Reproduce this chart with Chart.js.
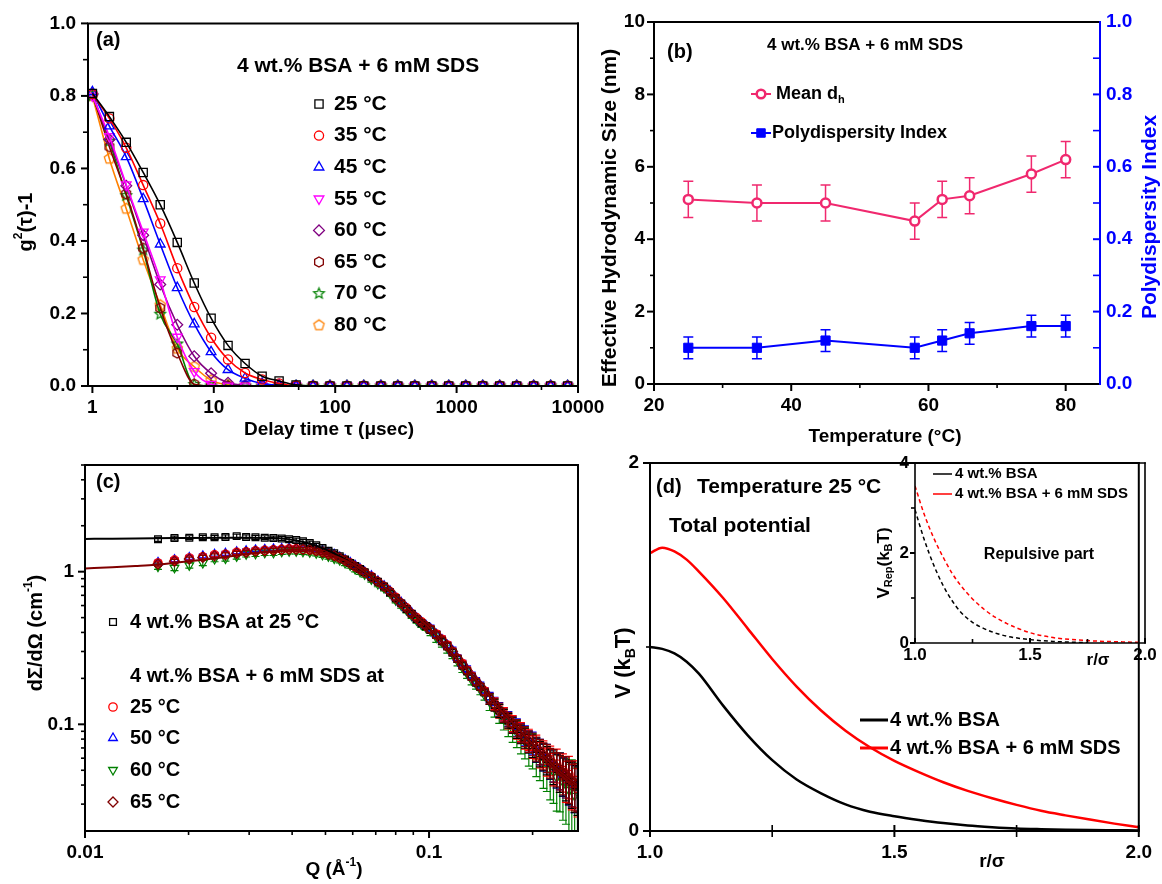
<!DOCTYPE html>
<html><head><meta charset="utf-8">
<script src="https://cdn.jsdelivr.net/npm/chart.js@4.4.1/dist/chart.umd.min.js"></script>
<style>
html,body{margin:0;padding:0;background:#fff;}
#wrap{position:relative;width:1162px;height:884px;background:#fff;overflow:hidden;}
canvas{position:absolute;}
</style></head><body>
<div id="wrap">
<canvas id="ca" width="620" height="440" style="left:0px;top:0px"></canvas>
<canvas id="cb" width="572" height="455" style="left:590px;top:0px"></canvas>
<canvas id="cc" width="620" height="444" style="left:0px;top:440px"></canvas>
<canvas id="cd" width="572" height="444" style="left:590px;top:440px"></canvas>
<canvas id="ce" width="292" height="230" style="left:870px;top:440px"></canvas>
</div>
<script>
// ---------------- DATA ----------------
// (a) DLS correlation functions
const tauUs = [1,1.38,1.9,2.62,3.62,5.0,6.9,9.5,13.1,18.1,25,34.5,47.6,65.7,90.6,125,172,238,328,453,625,862,1190,1642,2266,3127,4315,5955,8218];
const g2_25C = [0.807,0.743,0.672,0.589,0.500,0.396,0.284,0.187,0.112,0.062,0.027,0.014,0.003,0,0,0,0,0,0,0,0,0,0,0,0,0,0,0,0];
const g2_35C = [0.805,0.738,0.657,0.554,0.448,0.325,0.218,0.133,0.073,0.036,0.018,0.007,0.001,0,0,0,0,0,0,0,0,0,0,0,0,0,0,0,0];
const g2_45C = [0.811,0.717,0.632,0.516,0.391,0.271,0.171,0.094,0.045,0.021,0.007,0.002,0,0,0,0,0,0,0,0,0,0,0,0,0,0,0,0,0];
const g2_55C = [0.800,0.688,0.555,0.425,0.293,0.135,0.040,0.005,0,0,0,0,0,0,0,0,0,0,0,0,0,0,0,0,0,0,0,0,0];
const g2_60C = [0.805,0.680,0.552,0.416,0.280,0.169,0.082,0.035,0.009,0.002,0,0,0,0,0,0,0,0,0,0,0,0,0,0,0,0,0,0,0];
const g2_65C = [0.805,0.660,0.530,0.380,0.215,0.091,0.005,0,0,0,0,0,0,0,0,0,0,0,0,0,0,0,0,0,0,0,0,0,0];
const g2_70C = [0.800,0.675,0.525,0.375,0.198,0.116,0.004,0,0,0,0,0,0,0,0,0,0,0,0,0,0,0,0,0,0,0,0,0,0];
const g2_80C = [0.800,0.627,0.489,0.348,0.223,0.103,0.053,0.016,0.003,0,0,0,0,0,0,0,0,0,0,0,0,0,0,0,0,0,0,0,0];
const aSeriesNames = ['25 °C','35 °C','45 °C','55 °C','60 °C','65 °C','70 °C','80 °C'];
const aXTicks = [1,10,100,1000,10000], aXMinor = [5,50,500,5000], aXLabels = ['1','10','100','1000','10000'];
const aYTicks = [0,0.2,0.4,0.6,0.8,1.0], aYMinor = [0.1,0.3,0.5,0.7,0.9], aYLabels = ['0.0','0.2','0.4','0.6','0.8','1.0'];

// (b) hydrodynamic size and PDI
const temps = [25,35,45,58,62,66,75,80];
const meanDh = [5.1,5.0,5.0,4.5,5.1,5.2,5.8,6.2];
const meanDhErr = [0.5,0.5,0.5,0.5,0.5,0.5,0.5,0.5];
const pdi = [0.10,0.10,0.12,0.10,0.12,0.14,0.16,0.16];
const pdiErr = [0.03,0.03,0.03,0.03,0.03,0.03,0.03,0.03];
const bXTicks = [20,40,60,80], bXMinor = [30,50,70], bXLabels = ['20','40','60','80'];
const bYTicks = [0,2,4,6,8,10], bYMinor = [1,3,5,7,9], bYLabels = ['0','2','4','6','8','10'];
const bY2Ticks = [0,0.2,0.4,0.6,0.8,1.0], bY2Minor = [0.1,0.3,0.5,0.7,0.9], bY2Labels = ['0.0','0.2','0.4','0.6','0.8','1.0'];

// (c) SANS
const qv = [0.0163,0.0182,0.0201,0.022,0.0238,0.0256,0.0276,0.0294,0.0313,0.0333,0.0353,0.0373,0.0392,0.0411,0.043,0.045,0.047,0.049,0.051,0.053,0.055,0.057,0.059,0.061,0.063,0.065,0.068,0.071,0.074,0.077,0.08,0.083,0.086,0.089,0.092,0.095,0.098,0.101,0.105,0.109,0.113,0.117,0.121,0.125,0.129,0.133,0.137,0.141,0.145,0.15,0.155,0.16,0.165,0.17,0.175,0.18,0.185,0.19,0.195,0.2,0.205,0.21,0.215,0.22,0.225,0.23,0.235,0.24,0.245,0.25,0.255,0.26,0.265,0.27];
const iBSA25 = [1.63,1.66,1.67,1.68,1.68,1.69,1.71,1.69,1.68,1.67, 1.66,1.65,1.63,1.61,1.58,1.54,1.49,1.43,1.37,1.32, 1.26,1.20,1.14,1.09,1.04,0.99,0.92,0.86,0.80,0.73, 0.67,0.62,0.57,0.53,0.49,0.46,0.44,0.415,0.385,0.35, 0.325,0.295,0.268,0.243,0.223,0.205,0.188,0.176,0.162,0.147, 0.134,0.123,0.114,0.106,0.099,0.093,0.087,0.082,0.077,0.073, 0.069,0.065,0.062,0.059,0.056,0.053,0.051,0.049,0.047,0.045, 0.043,0.042,0.040,0.039];
const iSDS25 = [1.14,1.19,1.23,1.25,1.29,1.30,1.34,1.35,1.37,1.38, 1.39,1.40,1.41,1.41,1.40,1.39,1.37,1.35,1.31,1.28, 1.23,1.19,1.14,1.08,1.04,0.99,0.93,0.86,0.80,0.74, 0.68,0.62,0.58,0.53,0.50,0.47,0.44,0.42,0.39,0.36, 0.33,0.30,0.27,0.25,0.226,0.207,0.19,0.176,0.165,0.147, 0.137,0.122,0.117,0.105,0.102,0.092,0.09,0.081,0.08,0.072, 0.072,0.064,0.065,0.058,0.059,0.052,0.055,0.049,0.05,0.044, 0.047,0.041,0.043,0.038];
const iSDS50 = [1.15,1.20,1.24,1.27,1.30,1.32,1.35,1.37,1.39,1.40, 1.41,1.42,1.43,1.43,1.43,1.42,1.40,1.37,1.33,1.30, 1.25,1.20,1.15,1.10,1.05,1.00,0.94,0.87,0.81,0.75, 0.68,0.63,0.58,0.54,0.50,0.47,0.445,0.425,0.39,0.36, 0.33,0.305,0.272,0.25,0.23,0.209,0.193,0.18,0.166,0.15, 0.138,0.126,0.117,0.109,0.101,0.096,0.089,0.085,0.078,0.076, 0.069,0.067,0.062,0.061,0.056,0.055,0.051,0.051,0.047,0.047, 0.043,0.043,0.04,0.041];
const iSDS60 = [1.08,1.06,1.10,1.14,1.21,1.22,1.26,1.30,1.31,1.33, 1.33,1.35,1.36,1.36,1.35,1.34,1.32,1.29,1.26,1.22, 1.19,1.14,1.10,1.04,1.00,0.96,0.89,0.83,0.78,0.72, 0.65,0.60,0.56,0.515,0.48,0.45,0.43,0.41,0.37,0.345, 0.315,0.29,0.26,0.235,0.215,0.195,0.183,0.168,0.155,0.14, 0.128,0.118,0.108,0.10,0.093,0.088,0.081,0.077,0.071,0.069, 0.063,0.061,0.056,0.055,0.05,0.049,0.045,0.046,0.042,0.041, 0.037,0.039,0.034,0.036];
const iSDS65 = [1.12,1.17,1.21,1.24,1.27,1.29,1.32,1.34,1.36,1.37, 1.38,1.39,1.40,1.40,1.40,1.39,1.37,1.34,1.30,1.27, 1.23,1.18,1.13,1.08,1.03,0.99,0.92,0.86,0.80,0.74, 0.67,0.62,0.575,0.53,0.495,0.465,0.44,0.42,0.385,0.355, 0.325,0.30,0.27,0.245,0.225,0.205,0.19,0.177,0.163,0.148, 0.135,0.125,0.115,0.108,0.10,0.095,0.088,0.084,0.078,0.075, 0.07,0.067,0.063,0.061,0.057,0.055,0.052,0.051,0.048,0.047, 0.044,0.043,0.041,0.041];
const errRel = [0.03,0.03,0.03,0.03,0.03,0.03,0.03,0.03,0.03,0.03, 0.03,0.03,0.03,0.03,0.03,0.03,0.03,0.03,0.03,0.03, 0.03,0.03,0.03,0.03,0.03,0.03,0.03,0.03,0.03,0.03, 0.03,0.03,0.03,0.03,0.03,0.03,0.03,0.05,0.05,0.05, 0.05,0.05,0.05,0.05,0.05,0.05,0.05,0.05,0.05,0.08, 0.09,0.10,0.10,0.11,0.12,0.13,0.14,0.15,0.16,0.17, 0.18,0.19,0.20,0.21,0.22,0.24,0.25,0.27,0.28,0.30, 0.31,0.33,0.34,0.35];
const errRelGreen = [0.04,0.04,0.04,0.04,0.04,0.04,0.04,0.04,0.04,0.04, 0.04,0.04,0.04,0.04,0.04,0.04,0.04,0.04,0.04,0.04, 0.04,0.04,0.04,0.04,0.04,0.04,0.04,0.04,0.04,0.04, 0.04,0.04,0.04,0.04,0.04,0.04,0.04,0.07,0.07,0.07, 0.07,0.07,0.07,0.07,0.07,0.07,0.07,0.07,0.07,0.12, 0.13,0.14,0.15,0.17,0.18,0.20,0.21,0.23,0.25,0.26, 0.28,0.30,0.32,0.34,0.36,0.38,0.40,0.42,0.44,0.46, 0.48,0.50,0.52,0.55];
const fitQ = [0.01,0.012,0.014,0.016,0.018,0.02,0.025,0.03,0.035,0.04,0.045,0.05,0.055,0.06,0.07,0.08,0.09,0.1,0.12,0.14,0.16,0.18,0.2,0.22,0.24,0.27];
const fitBSA = [1.64,1.645,1.65,1.655,1.66,1.665,1.67,1.67,1.66,1.62,1.53,1.40,1.26,1.12,0.88,0.68,0.53,0.43,0.27,0.185,0.127,0.096,0.074,0.059,0.049,0.040];
const fitSDS = [1.05,1.07,1.09,1.11,1.14,1.17,1.24,1.31,1.36,1.39,1.39,1.32,1.23,1.12,0.88,0.68,0.53,0.43,0.27,0.185,0.127,0.096,0.074,0.059,0.049,0.040];
const cXTicks = [0.01,0.1], cXMinor = [0.02,0.03,0.04,0.05,0.06,0.07,0.08,0.09,0.2], cXLabels = ['0.01','0.1'];
const cYTicks = [0.1,1], cYMinor = [0.03,0.04,0.05,0.06,0.07,0.08,0.09,0.2,0.3,0.4,0.5,0.6,0.7,0.8,0.9,2,3,4,5], cYLabels = ['0.1','1'];

// (d) interaction potentials
const rTot = [1.0,1.025,1.05,1.075,1.1,1.15,1.2,1.25,1.3,1.35,1.4,1.45,1.5,1.55,1.6,1.65,1.7,1.75,1.8,1.85,1.9,1.95,2.0];
const vTotBSA = [1.0,0.99,0.965,0.92,0.855,0.68,0.52,0.385,0.28,0.205,0.145,0.105,0.08,0.06,0.043,0.03,0.021,0.014,0.01,0.007,0.005,0.004,0.003];
const vTotSDS = [1.51,1.54,1.52,1.475,1.41,1.265,1.10,0.935,0.785,0.655,0.545,0.455,0.381,0.32,0.265,0.218,0.178,0.142,0.11,0.085,0.062,0.04,0.02];
const rRepBSA = [1.0,1.04,1.08,1.12,1.16,1.2,1.25,1.3,1.35,1.4,1.5,1.6,1.7,1.75];
const vRepBSA = [2.96,2.3,1.75,1.3,0.95,0.68,0.46,0.32,0.22,0.15,0.075,0.035,0.015,0.01];
const rRepSDS = [1.0,1.04,1.08,1.12,1.16,1.2,1.25,1.3,1.35,1.4,1.5,1.6,1.7,1.8,1.9,1.97];
const vRepSDS = [3.49,2.86,2.35,1.93,1.56,1.27,0.98,0.75,0.57,0.43,0.23,0.12,0.07,0.04,0.025,0.015];
const dXTicks = [1.0,1.5,2.0], dXMinor = [1.25,1.75], dXLabels = ['1.0','1.5','2.0'];
const dYTicks = [0,2], dYMinor = [1], dYLabels = ['0','2'];
const eXTicks = [1.0,1.5,2.0], eXMinor = [1.25,1.75], eXLabels = ['1.0','1.5','2.0'];
const eYTicks = [0,2,4], eYMinor = [1,3], eYLabels = ['0','2','4'];

// ---------------- RENDERING ----------------
const FONT = '"Liberation Sans", Arial, Helvetica, sans-serif';
Chart.defaults.font.family = FONT;
Chart.defaults.color = '#000';

function shapeCanvas(kind, color, r, lw){
  const s = Math.ceil(2*r + lw + 2), c = document.createElement('canvas');
  c.width = s; c.height = s;
  const g = c.getContext('2d'); g.strokeStyle = color; g.lineWidth = lw; g.lineJoin='miter';
  const n = kind === 'hex' ? 6 : kind === 'pent' ? 5 : 10;
  g.beginPath();
  for (let k = 0; k < n; k++) {
    const a = -Math.PI/2 + k*2*Math.PI/n;
    const rr = (kind === 'star' && k % 2) ? r*0.45 : r;
    const px = s/2 + rr*Math.cos(a), py = s/2 + rr*Math.sin(a);
    k ? g.lineTo(px, py) : g.moveTo(px, py);
  }
  g.closePath(); g.stroke();
  return c;
}
const PS = { hex: shapeCanvas('hex','#800000',5,1.3), star: shapeCanvas('star','#008000',5.6,1.2), pent: shapeCanvas('pent','#ff8000',5.4,1.3) };

function parseRich(s){
  const out=[]; let i=0, buf='';
  while(i<s.length){
    if((s[i]==='_'||s[i]==='^') && s[i+1]==='{'){
      if(buf){out.push({t:buf,m:0});buf='';}
      const j=s.indexOf('}',i); out.push({t:s.slice(i+2,j), m:s[i]==='_'?1:2}); i=j+1;
    } else { buf+=s[i]; i++; }
  }
  if(buf) out.push({t:buf,m:0});
  return out;
}
function drawRich(ctx, it){
  const segs = parseRich(it.s), fs = it.size;
  const fnt = m => 'bold ' + (m ? Math.round(fs*0.62) : fs) + 'px ' + FONT;
  let tot = 0;
  segs.forEach(g => { ctx.font = fnt(g.m); g.w = ctx.measureText(g.t).width; tot += g.w; });
  ctx.save(); ctx.translate(it.x, it.y); if (it.rot) ctx.rotate(it.rot*Math.PI/180);
  let x = it.align === 'center' ? -tot/2 : 0;
  ctx.fillStyle = it.color || '#000'; ctx.textBaseline = 'middle'; ctx.textAlign = 'left';
  segs.forEach(g => { ctx.font = fnt(g.m); const dy = g.m===1 ? fs*0.32 : g.m===2 ? -fs*0.36 : 0; ctx.fillText(g.t, x, dy); x += g.w; });
  ctx.restore();
}

const DECO = {};
const decoPlugin = {
  id: 'deco',
  afterDraw(chart){
    const o = DECO[chart.canvas.id]; if (!o) return;
    const ctx = chart.ctx, ca = chart.chartArea;
    ctx.save();
    (o.ticks||[]).forEach(t => {
      const s = chart.scales[t.id], horiz = s.isHorizontal();
      ctx.strokeStyle = t.color || '#000';
      const one = (v, len, w) => {
        const p = s.getPixelForValue(v); ctx.lineWidth = w; ctx.beginPath();
        if (horiz) { const y0 = ca.bottom; let a = y0, b = y0 + len; if (t.dir==='in') b = y0 - len; else if (t.dir==='cross') a = y0 - len; ctx.moveTo(p,a); ctx.lineTo(p,b); }
        else { const right = s.position === 'right'; const x0 = right ? ca.right : ca.left; const sg = right ? 1 : -1; let a = x0, b = x0 + sg*len; if (t.dir==='in') b = x0 - sg*len; else if (t.dir==='cross') a = x0 - sg*len; ctx.moveTo(a,p); ctx.lineTo(b,p); }
        ctx.stroke();
      };
      t.major.forEach(v => one(v, t.len, 2));
      (t.minor||[]).forEach(v => one(v, t.mlen, 1.6));
    });
    const f = o.frame, fw = o.fw || 2;
    if (f) {
      ctx.lineWidth = fw; const L=ca.left, R=ca.right, T=ca.top, B=ca.bottom;
      const seg = (c,x1,y1,x2,y2) => { ctx.strokeStyle=c; ctx.beginPath(); ctx.moveTo(x1,y1); ctx.lineTo(x2,y2); ctx.stroke(); };
      seg(f.t, L-fw/2, T, R+fw/2, T); seg(f.b, L-fw/2, B, R+fw/2, B); seg(f.l, L, T, L, B); seg(f.r, R, T-fw/2, R, B+fw/2);
    }
    (o.marks||[]).forEach(m => {
      const x = m.x - o.ox, y = m.y - o.oy;
      if (m.line) { ctx.strokeStyle = m.c; ctx.lineWidth = m.lw || 2; ctx.setLineDash(m.dash || []); ctx.beginPath(); ctx.moveTo(m.line[0]-o.ox, y); ctx.lineTo(m.line[1]-o.ox, y); ctx.stroke(); ctx.setLineDash([]); }
      if (m.ps) {
        ctx.strokeStyle = m.c; ctx.fillStyle = m.fill || 'rgba(0,0,0,0)'; ctx.lineWidth = m.bw || 1.3;
        Chart.helpers.drawPoint(ctx, {pointStyle: PS[m.ps] || m.ps, rotation: m.rot || 0, radius: m.r || 4.5, borderWidth: m.bw || 1.3}, x, y);
      }
    });
    (o.texts||[]).forEach(t => drawRich(ctx, Object.assign({}, t, {x: t.x - o.ox, y: t.y - o.oy})));
    ctx.restore();
  }
};
const errPlugin = {
  id: 'errbars',
  beforeDatasetDraw(chart, args){
    const ds = chart.data.datasets[args.index]; if (!ds.err) return;
    const meta = args.meta, ys = chart.scales[meta.yAxisID], ca = chart.chartArea, ctx = chart.ctx;
    ctx.save(); ctx.beginPath(); ctx.rect(ca.left, ca.top, ca.width, ca.height); ctx.clip();
    ctx.strokeStyle = ds.errColor || ds.borderColor; ctx.lineWidth = ds.errWidth || 1.2;
    const cap = ds.errCap || 4;
    meta.data.forEach((pt, i) => {
      const d = ds.data[i], e = ds.err[i]; if (e == null || d == null) return;
      const y1 = ys.getPixelForValue(d.y - e), y2 = ys.getPixelForValue(d.y + e), x = pt.x;
      ctx.beginPath(); ctx.moveTo(x,y1); ctx.lineTo(x,y2);
      ctx.moveTo(x-cap,y1); ctx.lineTo(x+cap,y1); ctx.moveTo(x-cap,y2); ctx.lineTo(x+cap,y2); ctx.stroke();
    });
    ctx.restore();
  }
};
Chart.register(decoPlugin, errPlugin);

function axis(pos, type, min, max, ticks, labels, size, pad, fs, color){
  return {
    type, position: pos, min, max,
    grid: {display:false, drawTicks:false}, border: {display:false},
    ticks: {autoSkip:false, maxRotation:0, minRotation:0, padding:pad, color: color || '#000',
      font: {size: fs, weight: 'bold'}, callback: (v, i) => labels[i]},
    afterBuildTicks: s => { s.ticks = ticks.map(v => ({value: v})); },
    afterFit: s => { if (pos === 'left' || pos === 'right') s.width = size; else s.height = size; }
  };
}
function mk(id, datasets, scales, pad){
  return new Chart(document.getElementById(id), {
    type: 'line', data: {datasets},
    options: {responsive:false, animation:false, events:[], layout:{padding:pad},
      plugins:{legend:{display:false}, tooltip:{enabled:false}}, scales}
  });
}
const xy = (xs, ys) => xs.map((x, i) => ({x, y: ys[i]}));

// ----- panel (a)
const aSeries = [g2_25C, g2_35C, g2_45C, g2_55C, g2_60C, g2_65C, g2_70C, g2_80C];
const aColors = ['#000000','#ff0000','#0000ff','#ff00ff','#800080','#800000','#008000','#ff8000'];
const aStyles = [{ps:'rect',r:5.8},{ps:'circle',r:4.6},{ps:'triangle',r:5.6},{ps:'triangle',r:5.6,rot:180},{ps:'rectRot',r:5.4},{ps:'hex'},{ps:'star'},{ps:'pent'}];
const aDatasets = aSeries.map((s, i) => ({
  data: xy(tauUs, s), borderColor: aColors[i], backgroundColor: 'rgba(0,0,0,0)', borderWidth: 1.6,
  pointStyle: PS[aStyles[i].ps] || aStyles[i].ps, pointRadius: aStyles[i].r || 5, pointRotation: aStyles[i].rot || 0,
  pointBorderWidth: 1.3, cubicInterpolationMode: 'monotone'
}));
DECO.ca = {ox:0, oy:0, frame:{t:'#000',r:'#000',b:'#000',l:'#000'},
  ticks:[{id:'x',dir:'out',len:7,mlen:4,major:aXTicks,minor:aXMinor},{id:'y',dir:'out',len:7,mlen:5,major:aYTicks,minor:aYMinor}],
  texts:[{x:96,y:40,s:'(a)',size:20},{x:237,y:66,s:'4 wt.% BSA + 6 mM SDS',size:21},
    {x:26,y:222,s:'g^{2}(τ)-1',size:20,rot:-90,align:'center'},
    {x:329,y:430,s:'Delay time τ (μsec)',size:19,align:'center'}]
    .concat(aSeriesNames.map((n,i)=>({x:334,y:104+31.6*i,s:n,size:21}))),
  marks: aStyles.map((st,i)=>({x:319,y:104+31.6*i,ps:st.ps,r:st.r||5,rot:st.rot||0,c:aColors[i],bw:1.3}))
};
mk('ca', aDatasets, {
  x: axis('bottom','logarithmic',0.92,10000,aXTicks,aXLabels,54,10,19),
  y: axis('left','linear',0,1.0,aYTicks,aYLabels,88,12,19)
}, {top:21,right:42,left:0,bottom:0});

// ----- panel (b)
const PINK = '#f0286e', BLUE = '#0000ff';
DECO.cb = {ox:590, oy:0, frame:{t:'#000',r:BLUE,b:'#000',l:'#000'},
  ticks:[{id:'x',dir:'out',len:7,mlen:4,major:bXTicks,minor:bXMinor},{id:'y',dir:'out',len:7,mlen:4,major:bYTicks,minor:bYMinor},
         {id:'y2',dir:'in',len:7,mlen:7,major:bY2Ticks,minor:bY2Minor,color:BLUE}],
  texts:[{x:667,y:52,s:'(b)',size:20},{x:767,y:45,s:'4 wt.% BSA + 6 mM SDS',size:17},
    {x:776,y:94,s:'Mean d_{h}',size:18},{x:772,y:133,s:'Polydispersity Index',size:18},
    {x:610,y:218,s:'Effective Hydrodynamic Size (nm)',size:21,rot:-90,align:'center'},
    {x:1150,y:217,s:'Polydispersity Index',size:21,rot:-90,align:'center',color:BLUE},
    {x:885,y:437,s:'Temperature (°C)',size:19,align:'center'}],
  marks:[{x:761,y:94,line:[751,771],lw:2,c:PINK,ps:'circle',r:4.3,fill:'#fff',bw:2.5},
         {x:761,y:133,line:[751,771],lw:2,c:BLUE,ps:'rect',r:6,fill:BLUE,bw:1}]
};
mk('cb', [
  {data: xy(temps, meanDh), yAxisID:'y', borderColor:PINK, backgroundColor:'#fff', borderWidth:2, pointStyle:'circle', pointRadius:4.5, pointBorderWidth:2.5, err: meanDhErr, errCap:5, errWidth:1.5},
  {data: xy(temps, pdi), yAxisID:'y2', borderColor:BLUE, backgroundColor:BLUE, borderWidth:2, pointStyle:'rect', pointRadius:6.5, pointBorderWidth:1, err: pdiErr, errCap:5, errWidth:1.5}
], {
  x: axis('bottom','linear',20,85,bXTicks,bXLabels,71,10,19),
  y: axis('left','linear',0,10,bYTicks,bYLabels,64,9,19),
  y2: axis('right','linear',0,1,bY2Ticks,bY2Labels,62,6,19,BLUE)
}, {top:22,right:0,left:0,bottom:0});

// ----- panel (c)
const cNames = ['4 wt.% BSA at 25 °C','25 °C','50 °C','60 °C','65 °C'];
const cColors = ['#000000','#ff0000','#0000ff','#008000','#800000'];
const cStyles = [{ps:'rect',r:4.8},{ps:'circle',r:4.2},{ps:'triangle',r:5},{ps:'triangle',r:5,rot:180},{ps:'rectRot',r:5}];
const cSeries = [iBSA25, iSDS25, iSDS50, iSDS60, iSDS65];
const cErr = [errRel, errRel, errRel, errRelGreen, errRel];
const cOrder = [4,5,5,6,3];
const cDatasets = cSeries.map((s,i)=>({
  data: xy(qv, s), borderColor: cColors[i], backgroundColor:'rgba(0,0,0,0)', showLine:false,
  pointStyle: cStyles[i].ps, pointRadius: cStyles[i].r, pointRotation: cStyles[i].rot||0, pointBorderWidth:1.2,
  err: s.map((v,k)=>v*cErr[i][k]), errCap:4, errWidth:1.2, order: cOrder[i]
}));
cDatasets.push({data: xy(fitQ, fitBSA), borderColor:'#000', borderWidth:2, pointRadius:0, cubicInterpolationMode:'monotone', order:1});
cDatasets.push({data: xy(fitQ, fitSDS), borderColor:'#800000', borderWidth:2, pointRadius:0, cubicInterpolationMode:'monotone', order:0});
const cLegY = [622,707,738,770,802];
DECO.cc = {ox:0, oy:440, frame:{t:'#000',r:'#000',b:'#000',l:'#000'},
  ticks:[{id:'x',dir:'out',len:7,mlen:4,major:cXTicks,minor:cXMinor},{id:'y',dir:'out',len:7,mlen:4,major:cYTicks,minor:cYMinor}],
  texts:[{x:96,y:482,s:'(c)',size:20},{x:130,y:676,s:'4 wt.% BSA + 6 mM SDS at',size:20},
    {x:36,y:633,s:'dΣ/dΩ (cm^{-1})',size:20,rot:-90,align:'center'},
    {x:334,y:870,s:'Q (Å^{-1})',size:19,align:'center'}]
    .concat(cNames.map((n,i)=>({x:130,y:cLegY[i],s:n,size:20}))),
  marks: cStyles.map((st,i)=>({x:113,y:cLegY[i],ps:st.ps,r:st.r,rot:st.rot||0,c:cColors[i],bw:1.3}))
};
mk('cc', cDatasets, {
  x: axis('bottom','logarithmic',0.01,0.271,cXTicks,cXLabels,53,10,19),
  y: axis('left','logarithmic',0.02,5,cYTicks,cYLabels,85,11,19)
}, {top:25,right:42,left:0,bottom:0});

// ----- panel (d)
DECO.cd = {ox:590, oy:440, frame:{t:'#000',r:'#000',b:'#000',l:'#000'},
  ticks:[{id:'x',dir:'cross',len:6,mlen:6,major:dXTicks,minor:dXMinor},{id:'y',dir:'out',len:7,mlen:4,major:dYTicks,minor:dYMinor}],
  texts:[{x:656,y:487,s:'(d)',size:20},{x:697,y:487,s:'Temperature 25 °C',size:21},{x:669,y:526,s:'Total potential',size:21},
    {x:890,y:720,s:'4 wt.% BSA',size:20},{x:890,y:748,s:'4 wt.% BSA + 6 mM SDS',size:20},
    {x:624,y:663,s:'V (k_{B}T)',size:22,rot:-90,align:'center'},
    {x:992,y:862,s:'r/σ',size:19,align:'center'}],
  marks:[{x:874,y:720,line:[860,888],lw:3,c:'#000'},{x:874,y:748,line:[860,888],lw:3,c:'#ff0000'}]
};
mk('cd', [
  {data: xy(rTot, vTotBSA), borderColor:'#000', borderWidth:2.5, pointRadius:0, cubicInterpolationMode:'monotone'},
  {data: xy(rTot, vTotSDS), borderColor:'#ff0000', borderWidth:2.5, pointRadius:0, cubicInterpolationMode:'monotone'}
], {
  x: axis('bottom','linear',1,2,dXTicks,dXLabels,53,10,19),
  y: axis('left','linear',0,2,dYTicks,dYLabels,60,11,19)
}, {top:23,right:17,left:0,bottom:0});

// ----- inset of (d)
DECO.ce = {ox:870, oy:440, fw:1.6, frame:{t:'#000',r:'#000',b:'#000',l:'#000'},
  ticks:[{id:'x',dir:'in',len:5,mlen:4,major:eXTicks,minor:eXMinor},{id:'y',dir:'out',len:5,mlen:4,major:eYTicks,minor:eYMinor}],
  texts:[{x:955,y:474,s:'4 wt.% BSA',size:15},{x:955,y:494,s:'4 wt.% BSA + 6 mM SDS',size:15},
    {x:1039,y:555,s:'Repulsive part',size:16,align:'center'},
    {x:884,y:563,s:'V_{Rep}(k_{B}T)',size:17,rot:-90,align:'center'},
    {x:1098,y:660,s:'r/σ',size:17,align:'center'}],
  marks:[{x:942,y:474,line:[933,952],lw:1.5,c:'#000'},{x:942,y:494,line:[933,952],lw:1.5,c:'#ff0000'}]
};
mk('ce', [
  {data: xy(rRepBSA, vRepBSA), borderColor:'#000', borderWidth:1.5, borderDash:[4,3], pointRadius:0, cubicInterpolationMode:'monotone'},
  {data: xy(rRepSDS, vRepSDS), borderColor:'#ff0000', borderWidth:1.5, borderDash:[4,3], pointRadius:0, cubicInterpolationMode:'monotone'}
], {
  x: axis('bottom','linear',1,2,eXTicks,eXLabels,27,2,17),
  y: axis('left','linear',0,4,eYTicks,eYLabels,45,6,17)
}, {top:23,right:17,left:0,bottom:0});
</script>
</body></html>
